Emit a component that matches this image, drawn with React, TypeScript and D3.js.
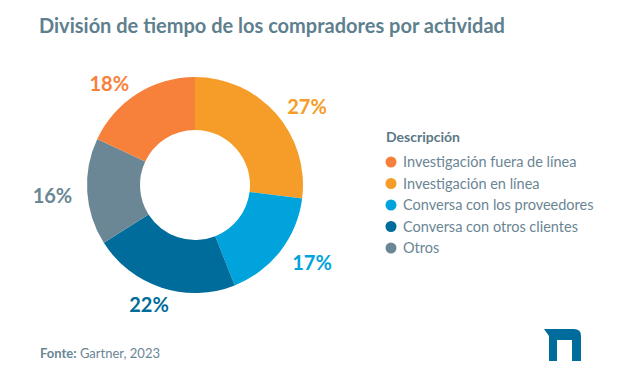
import React from 'react';
import * as d3 from 'd3';

const categories = [
  'Investigación en línea',
  'Conversa con los proveedores',
  'Conversa con otros clientes',
  'Otros',
  'Investigación fuera de línea',
];
const values = [27, 17, 22, 16, 18];
const colors = ['#F59D28', '#00A3DC', '#006C9B', '#6B8795', '#F7813B'];

// legend order differs from slice order
const legendOrder = [4, 0, 1, 2, 3];

const width = 620;
const height = 384;
const cx = 195;
const cy = 185;
const outerRadius = 108;
const innerRadius = 55;
const labelRadius = 123;

const font = 'Lato, "Open Sans", sans-serif';

export default function App() {
  const pie = d3.pie<number>().value((d) => d).sort(null);
  const arcs = pie(values);
  const arc = d3.arc<d3.PieArcDatum<number>>().innerRadius(innerRadius).outerRadius(outerRadius);

  const legendY = d3.scaleLinear().domain([0, 1]).range([162, 183.5]);

  return (
    <svg width={width} height={height} style={{ position: 'absolute', left: 0, top: 0, fontFamily: font }}>
      <rect width={width} height={height} fill="#fff" />
      <text x={39} y={33} fontSize={20} fontWeight={700} fill="#5E7F8E">
        División de tiempo de los compradores por actividad
      </text>

      <g transform={`translate(${cx},${cy})`}>
        {arcs.map((a, i) => (
          <path key={i} d={arc(a) || ''} fill={colors[i]} />
        ))}
        {arcs.map((a, i) => {
          const mid = (a.startAngle + a.endAngle) / 2;
          const s = Math.sin(mid);
          const c = -Math.cos(mid);
          const anchor = Math.abs(s) < 0.4 ? 'middle' : s > 0 ? 'start' : 'end';
          return (
            <text
              key={i}
              x={labelRadius * s + (anchor === 'middle' ? -8 : 0)}
              y={labelRadius * c + 3}
              dy="0.35em"
              textAnchor={anchor}
              fontSize={20}
              fontWeight={700}
              fill={colors[i]}
            >
              {values[i]}%
            </text>
          );
        })}
      </g>

      <text x={386} y={142} fontSize={14} fontWeight={700} fill="#5B7886">
        Descripción
      </text>
      {legendOrder.map((idx, j) => (
        <g key={idx} transform={`translate(391,${legendY(j)})`}>
          <circle r={5.5} fill={colors[idx]} />
          <text x={12} dy="0.35em" fontSize={14.5} fill="#6A8594">
            {categories[idx]}
          </text>
        </g>
      ))}

      <text x={40} y={358} fontSize={13} fill="#6A8594">
        <tspan fontWeight={700}>Fonte:</tspan> Gartner, 2023
      </text>

      <path
        d="M544,329 L574,329 Q581,329 581,336 L581,361 L572,361 L572,340 L557,340 L557,361 L549,361 L549,336 Z"
        fill="#006C9B"
      />
    </svg>
  );
}
